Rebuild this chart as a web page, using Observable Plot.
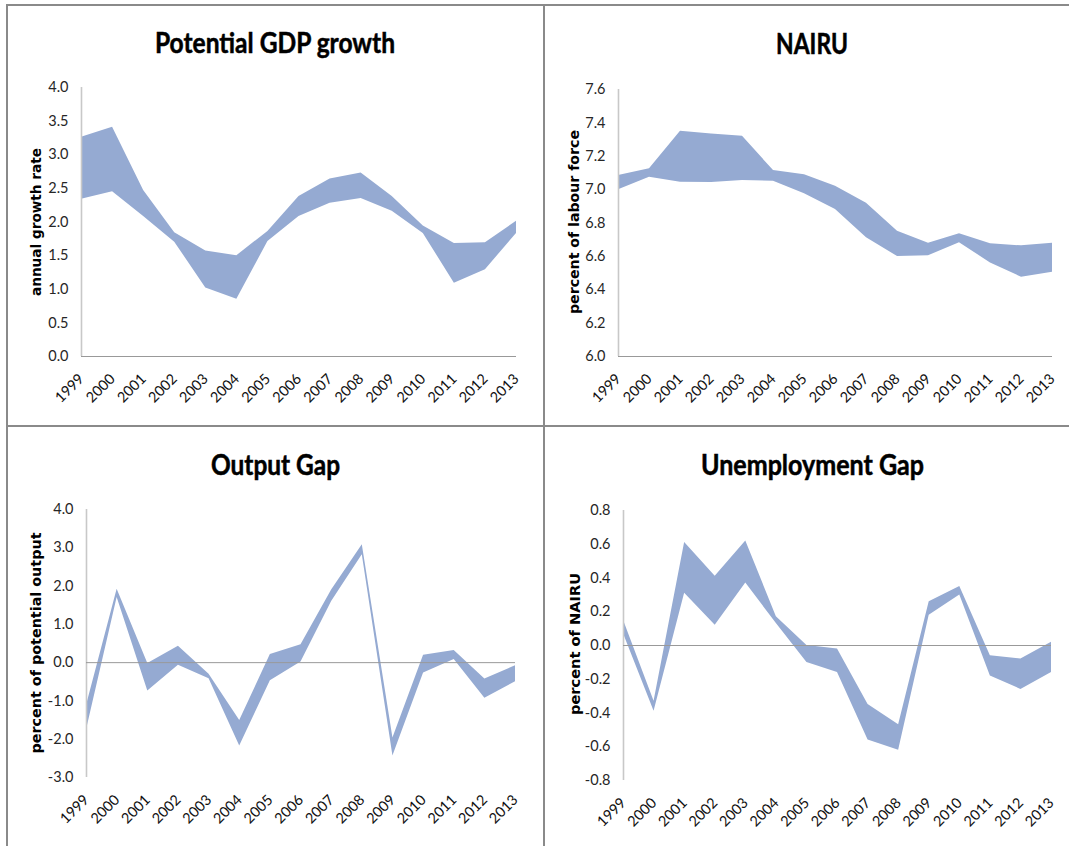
<!DOCTYPE html>
<html><head><meta charset="utf-8">
<script src="https://cdn.jsdelivr.net/npm/d3@7"></script>
<script src="https://cdn.jsdelivr.net/npm/@observablehq/plot@0.6"></script>
<style>
html,body{margin:0;padding:0;background:#fff;}
#wrap{position:relative;width:1069px;height:846px;overflow:hidden;background:#fff;}
#wrap > svg{position:absolute;}
</style></head><body><div id="wrap"></div>
<script>
// ---- data ----
const years = [1999,2000,2001,2002,2003,2004,2005,2006,2007,2008,2009,2010,2011,2012,2013];

const titles = ["Potential GDP growth", "NAIRU", "Output Gap", "Unemployment Gap"];
const yLabels = ["annual growth rate", "percent of labour force", "percent of potential output", "percent of NAIRU"];

const gdpHi = [3.26,3.41,2.47,1.84,1.57,1.50,1.86,2.38,2.64,2.73,2.38,1.94,1.68,1.69,2.01];
const gdpLo = [2.34,2.45,2.08,1.70,1.02,0.85,1.71,2.08,2.28,2.35,2.16,1.83,1.09,1.29,1.83];

const nairuHi = [7.084,7.125,7.350,7.334,7.320,7.114,7.089,7.020,6.918,6.751,6.679,6.735,6.675,6.663,6.679];
const nairuLo = [7.000,7.074,7.044,7.043,7.055,7.050,6.975,6.881,6.711,6.600,6.603,6.681,6.561,6.475,6.505];

const ogapHi = [-1.12,1.92,-0.02,0.43,-0.30,-1.51,0.21,0.47,1.90,3.08,-1.97,0.19,0.32,-0.43,-0.08];
const ogapLo = [-1.76,1.70,-0.74,-0.07,-0.42,-2.18,-0.47,0.02,1.60,2.82,-2.44,-0.27,0.08,-0.93,-0.50];

const ugapHi = [0.15,-0.33,0.61,0.41,0.62,0.17,0.00,-0.02,-0.35,-0.47,0.26,0.35,-0.06,-0.08,0.02];
const ugapLo = [0.07,-0.39,0.31,0.12,0.37,0.13,-0.10,-0.16,-0.56,-0.62,0.18,0.30,-0.18,-0.26,-0.16];

const gdpTicks = [0,0.5,1,1.5,2,2.5,3,3.5,4];
const nairuTicks = [6.0,6.2,6.4,6.6,6.8,7.0,7.2,7.4,7.6];
const ogapTicks = [-3,-2,-1,0,1,2,3,4];
const ugapTicks = [-0.8,-0.6,-0.4,-0.2,0,0.2,0.4,0.6,0.8];

// ---- layout ----
const bandColor = "#95aad2";
const panels = [
  {hi:gdpHi, lo:gdpLo, ticks:gdpTicks, domain:[0,4], base:0,
   left:0, top:0, width:544, height:425, mL:81, mR:28, mT:87, mB:69,
   title:{x:275, y:53, len:240}, label:{x:41, y:222, len:148}},
  {hi:nairuHi, lo:nairuLo, ticks:nairuTicks, domain:[6,7.6], base:6,
   left:544, top:0, width:525, height:425, mL:74, mR:17, mT:89, mB:69,
   title:{x:812, y:54, len:72}, label:{x:579, y:222, len:184}},
  {hi:ogapHi, lo:ogapLo, ticks:ogapTicks, domain:[-3,4], base:0,
   left:0, top:427, width:544, height:419, mL:86, mR:29, mT:82, mB:69,
   title:{x:275.5, y:475, len:129}, label:{x:41, y:643, len:221}},
  {hi:ugapHi, lo:ugapLo, ticks:ugapTicks, domain:[-0.8,0.8], base:0,
   left:544, top:427, width:525, height:419, mL:79, mR:18, mT:83, mB:66,
   title:{x:812.5, y:475, len:223}, label:{x:580, y:644, len:142}}
];

const wrap = document.getElementById("wrap");

panels.forEach((p) => {
  const data = years.map((year, i) => ({year, lo: p.lo[i], hi: p.hi[i]}));
  const svg = Plot.plot({
    width: p.width, height: p.height,
    marginLeft: p.mL, marginRight: p.mR, marginTop: p.mT, marginBottom: p.mB,
    x: {type: "linear", domain: [years[0], years[years.length - 1]]},
    y: {domain: p.domain},
    style: {fontFamily: "Lato, 'Open Sans', sans-serif", fontSize: "14px", color: "#333", background: "transparent", overflow: "visible"},
    marks: [
      Plot.area(data, {x1: "year", y1: "lo", y2: "hi", fill: bandColor, curve: "linear"}),
      Plot.ruleX([years[0]], {stroke: "#c8c8c8", strokeWidth: 1.6}),
      Plot.ruleY([p.base], {stroke: "#999999", strokeWidth: 1}),
      Plot.axisY({ticks: p.ticks, tickSize: 0, tickPadding: 13, tickFormat: d => d.toFixed(1), label: null, fill: "#262626", fontSize: 14.5}),
      Plot.axisX({ticks: years, tickSize: 0, tickPadding: 20, tickRotate: -45, tickFormat: d => String(d), label: null, fill: "#111", fontSize: 14.5})
    ]
  });
  // enforce tick label font sizes
  d3.select(svg).selectAll("text").each(function() {
    const size = 14.5;
    this.setAttribute("font-size", size);
    this.style.fontFamily = "Lato, 'Open Sans', sans-serif";
    this.style.fontSize = size + "px";
  });
  svg.style.left = p.left + "px";
  svg.style.top = p.top + "px";
  svg.style.maxWidth = "none";
  wrap.appendChild(svg);
});

// overlay: borders, titles, y-axis labels
const ov = d3.select(wrap).append("svg")
  .attr("width", 1069).attr("height", 846)
  .style("left", "0px").style("top", "0px").style("pointer-events", "none");

const borderColor = "#8a8a8a";
[[6,5,1069,5],[7,5,7,846],[544,5,544,846],[7,426,1069,426]].forEach(([x1,y1,x2,y2]) => {
  ov.append("line").attr("x1",x1).attr("y1",y1).attr("x2",x2).attr("y2",y2)
    .attr("stroke", borderColor).attr("stroke-width", 2);
});

panels.forEach((p, i) => {
  ov.append("text")
    .attr("x", p.title.x).attr("y", p.title.y)
    .attr("text-anchor", "middle")
    .attr("font-family", "Lato, 'Open Sans', sans-serif")
    .attr("font-weight", 700).attr("font-size", 28).attr("fill", "#000")
    .attr("stroke", "#000").attr("stroke-width", 0.5)
    .attr("textLength", p.title.len).attr("lengthAdjust", "spacingAndGlyphs")
    .text(titles[i]);
  ov.append("text")
    .attr("transform", `translate(${p.label.x},${p.label.y}) rotate(-90)`)
    .attr("text-anchor", "middle")
    .attr("font-family", "'DejaVu Sans', Verdana, sans-serif")
    .attr("font-weight", 700).attr("font-size", 13.5).attr("fill", "#000")
    .attr("textLength", p.label.len).attr("lengthAdjust", "spacingAndGlyphs")
    .text(yLabels[i]);
});
</script></body></html>
